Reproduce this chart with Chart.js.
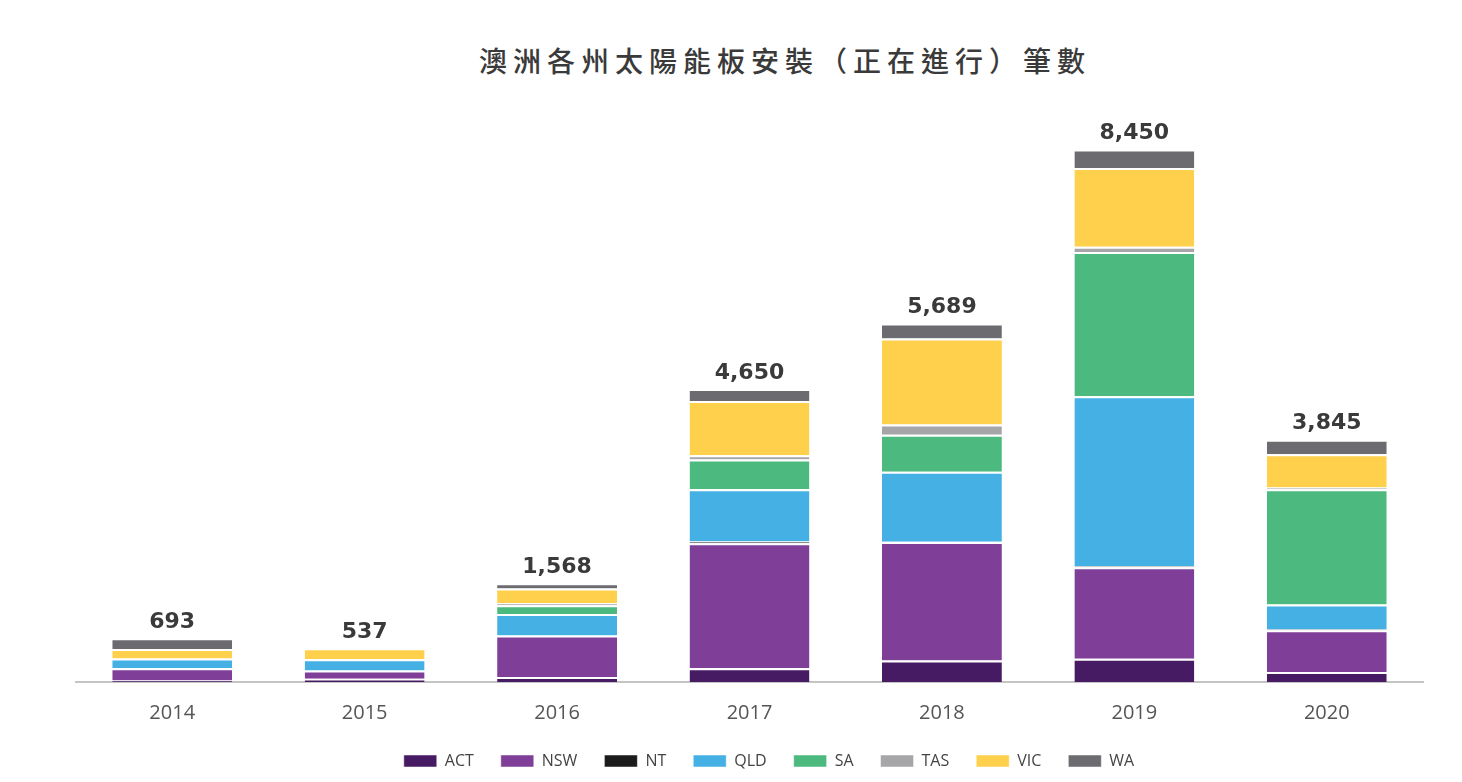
<!DOCTYPE html>
<html>
<head>
<meta charset="utf-8">
<title>澳洲各州太陽能板安裝</title>
<script src="https://cdn.jsdelivr.net/npm/chart.js@4.4.1/dist/chart.umd.min.js"></script>
<style>
  html, body { margin: 0; padding: 0; background: #fff; }
  #wrap { position: relative; width: 1462px; height: 782px; }
  #title {
    position: absolute; left: 108px; right: 0; top: 44px;
    text-align: center;
    font-family: "Noto Sans CJK TC", "Noto Sans CJK SC", sans-serif;
    font-size: 28px; font-weight: 500; line-height: 32px;
    letter-spacing: 6px; color: #3a3a3a;
  }
  canvas { position: absolute; left: 0; top: 0; }
</style>
</head>
<body>
<div id="wrap">
  <div id="title">澳洲各州太陽能板安裝（正在進行）筆數</div>
  <canvas id="solarChart" width="1462" height="782"></canvas>
</div>
<script>
const years = ['2014', '2015', '2016', '2017', '2018', '2019', '2020'];
const states = ['ACT', 'NSW', 'NT', 'QLD', 'SA', 'TAS', 'VIC', 'WA'];
const act = [25, 50, 78, 220, 340, 370, 160];
const nsw = [193, 132, 660, 1980, 1880, 1450, 660];
const nt  = [0, 0, 0, 30, 5, 15, 15];
const qld = [155, 180, 340, 830, 1110, 2700, 395];
const sa  = [0, 0, 140, 470, 590, 2290, 1830];
const tas = [0, 0, 30, 70, 160, 80, 25];
const vic = [150, 175, 235, 860, 1364, 1250, 530];
const wa  = [170, 0, 85, 190, 240, 295, 230];

const colors = ['#471b63', '#7f3f98', '#1b1b1b', '#45b0e4', '#4cba7e', '#a6a5a8', '#ffd04c', '#6c6b70'];
const series = [act, nsw, nt, qld, sa, tas, vic, wa];

Chart.defaults.font.family = '"Open Sans", sans-serif';
Chart.defaults.color = '#444';

// totals printed above each stack
const totalsPlugin = {
    id: 'totals',
    afterDatasetsDraw(chart) {
        const ctx = chart.ctx;
        const yScale = chart.scales.y;
        const lastMeta = chart.getDatasetMeta(chart.data.datasets.length - 1);
        ctx.save();
        ctx.font = 'bold 22px "DejaVu Sans", sans-serif';
        ctx.fillStyle = '#3a3a3a';
        ctx.textAlign = 'center';
        ctx.textBaseline = 'bottom';
        years.forEach(function (year, i) {
            let sum = 0;
            series.forEach(function (s) { sum += s[i]; });
            const x = lastMeta.data[i].x;
            const y = yScale.getPixelForValue(sum);
            ctx.fillText(sum.toLocaleString('en-US'), x, y - 5);
        });
        ctx.restore();
    }
};

new Chart(document.getElementById('solarChart'), {
    type: 'bar',
    data: {
        labels: years,
        datasets: states.map(function (name, k) {
            return {
                label: name,
                data: series[k],
                backgroundColor: colors[k],
                borderColor: '#ffffff',
                borderWidth: { top: 2, bottom: 0, left: 0, right: 0 },
                borderSkipped: false,
                barPercentage: 0.623,
                categoryPercentage: 1.0
            };
        })
    },
    options: {
        responsive: false,
        animation: false,
        layout: {
            padding: { top: 118, left: 76, right: 0, bottom: 3 }
        },
        plugins: {
            title: { display: false },
            tooltip: { enabled: false },
            legend: {
                position: 'bottom',
                labels: {
                    boxWidth: 33,
                    boxHeight: 12,
                    padding: 27,
                    color: '#444',
                    font: { size: 16 }
                }
            }
        },
        scales: {
            x: {
                stacked: true,
                grid: { display: false, drawTicks: false },
                border: { display: true, color: '#c4c4c4', width: 2 },
                ticks: { padding: 19, color: '#555', font: { size: 20 } },
                afterFit(scale) { scale.height -= 18; }
            },
            y: {
                stacked: true,
                position: 'right',
                min: 0,
                max: 8950,
                grid: { display: false, drawTicks: false },
                border: { display: false },
                ticks: { display: false },
                afterFit(scale) { scale.width = 39; }
            }
        }
    },
    plugins: [totalsPlugin]
});
</script>
</body>
</html>
